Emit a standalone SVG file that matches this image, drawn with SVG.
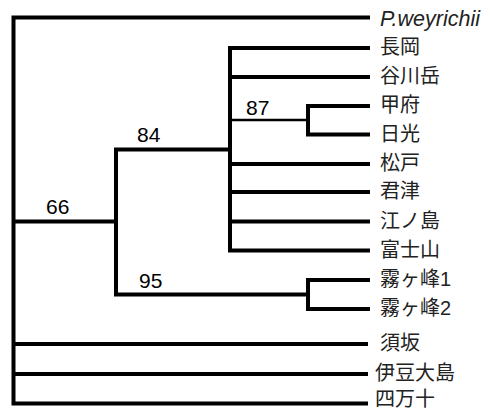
<svg xmlns="http://www.w3.org/2000/svg" width="490" height="411" viewBox="0 0 490 411">
<style>
.br{fill:none;stroke:#000;stroke-width:4;stroke-linejoin:miter;stroke-linecap:butt}
.thin{fill:none;stroke:#000;stroke-width:2.5}
.lb{font-family:"Liberation Sans","Noto Sans CJK JP",sans-serif;font-size:20px;fill:#222}
.it{font-style:italic;font-size:21.5px}
.sp{font-family:"Liberation Sans",sans-serif;font-size:21px;fill:#000}
</style>
<rect width="490" height="411" fill="#fff"/>
<g id="connectors">
<path class="br" d="M370,17.5 H13.5 V403.5 H368"/>
<path class="br" d="M13.5,344 H368"/>
<path class="br" d="M13.5,374 H368"/>
<path class="br" d="M13.5,221.5 H116"/>
<path class="br" d="M230,149.5 H116 V294.5 H308"/>
<path class="br" d="M370,48 H230 V250.5 H370"/>
<path class="br" d="M230,77 H370"/>
<path class="br" d="M230,164 H370"/>
<path class="br" d="M230,192 H370"/>
<path class="br" d="M230,221.5 H370"/>
<path class="thin" d="M230,120 H308"/>
<path class="br" d="M370,106 H308 V134.5 H370"/>
<path class="br" d="M370,280 H308 V309 H370"/>
</g>
<g id="leaf-pweyrichii"><text class="lb it" x="380" y="26">P.weyrichii</text></g>
<g id="leaf-nagaoka"><text class="lb" x="380" y="54">長岡</text></g>
<g id="leaf-tanigawadake"><text class="lb" x="380" y="83">谷川岳</text></g>
<g id="leaf-kofu"><text class="lb" x="380" y="112">甲府</text></g>
<g id="leaf-nikko"><text class="lb" x="380" y="141">日光</text></g>
<g id="leaf-matsudo"><text class="lb" x="380" y="170">松戸</text></g>
<g id="leaf-kimitsu"><text class="lb" x="380" y="198">君津</text></g>
<g id="leaf-enoshima"><text class="lb" x="380" y="228">江ノ島</text></g>
<g id="leaf-fujisan"><text class="lb" x="380" y="257">富士山</text></g>
<g id="leaf-kirigamine1"><text class="lb" x="380" y="286">霧ヶ峰1</text></g>
<g id="leaf-kirigamine2"><text class="lb" x="380" y="315">霧ヶ峰2</text></g>
<g id="leaf-suzaka"><text class="lb" x="380" y="350">須坂</text></g>
<g id="leaf-izuoshima"><text class="lb" x="375" y="380">伊豆大島</text></g>
<g id="leaf-shimanto"><text class="lb" x="375" y="406">四万十</text></g>
<g id="node-66"><text class="sp" x="46" y="214">66</text></g>
<g id="node-84"><text class="sp" x="137" y="142">84</text></g>
<g id="node-87"><text class="sp" x="246" y="115">87</text></g>
<g id="node-95"><text class="sp" x="139" y="288">95</text></g>
</svg>
